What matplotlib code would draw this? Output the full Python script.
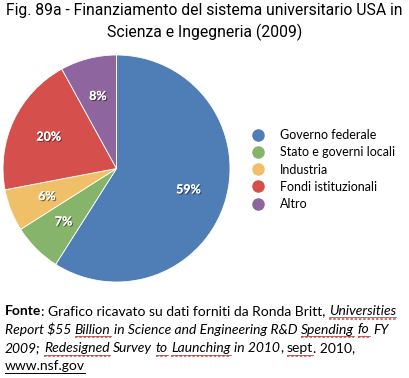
import matplotlib
matplotlib.use("Agg")
import matplotlib.pyplot as plt
import matplotlib.patheffects as pe
from matplotlib.lines import Line2D

# Dati del grafico
categorie = ["Governo federale", "Stato e governi locali", "Industria",
             "Fondi istituzionali", "Altro"]
quote = [59, 7, 6, 20, 8]
colori = ["#4f7db5", "#86b46a", "#f0c068", "#d5504c", "#8f65a0"]

titolo = "Fig. 89a - Finanziamento del sistema universitario USA in\nScienza e Ingegneria (2009)"

# righe della fonte: (testo, stile, sottolineatura)
fonte = [
    [("Fonte", "bold", ""), (": Grafico ricavato su dati forniti da Ronda Britt, ", "normal", ""),
     ("Universities", "italic", "sq")],
    [("Report $55 ", "italic", ""), ("Billion", "italic", "sq"),
     (" in Science and Engineering R&D ", "italic", ""), ("Spending", "italic", "sq"),
     (" ", "italic", ""), ("fo", "italic", "sq"), (" FY", "italic", "")],
    [("2009; ", "italic", ""), ("Redesigned", "italic", "sq"), (" Survey ", "italic", ""),
     ("to", "italic", "sq"), (" ", "italic", ""), ("Launching", "italic", "sq"),
     (" in 2010", "italic", ""), (", ", "normal", ""), ("sept", "normal", "sq"),
     (". 2010,", "normal", "")],
    [("www.nsf.gov", "normal", "ul")],
]

W, H = 409, 378
fig = plt.figure(figsize=(W / 100, H / 100), dpi=100)
fig.patch.set_facecolor("white")

# Torta
cx, cy, r = 116.5, 168.5, 113.5
ax = fig.add_axes([(cx - r) / W, (H - cy - r) / H, 2 * r / W, 2 * r / H])
wedges, texts, autotexts = ax.pie(
    quote, colors=colori, startangle=90, counterclock=False,
    autopct=lambda p: "%d%%" % round(p), pctdistance=0.66,
    wedgeprops=dict(edgecolor="white", linewidth=0.6),
    textprops=dict(color="white", fontsize=9, fontweight="bold", family=["Lato", "DejaVu Sans"]))
for t in autotexts:
    t.set_path_effects([pe.withSimplePatchShadow(offset=(0.8, -0.8), shadow_rgbFace="black", alpha=0.5),
                        pe.Normal()])
ax.set_xlim(-1, 1)
ax.set_ylim(-1, 1)
ax.axis("off")

# Titolo
fig.text(0.5, 1 - 3 / H, titolo, ha="center", va="top", fontsize=11.3,
         family=["Roboto", "DejaVu Sans"], linespacing=1.45)

# Legenda
handles = [Line2D([], [], marker="o", linestyle="", markersize=8,
                  markerfacecolor=c, markeredgecolor=c) for c in colori]
fig.legend(handles, categorie, loc="upper left", bbox_to_anchor=(252 / W, 1 - 129 / H),
           frameon=False, handlelength=1.0, handletextpad=1.2, labelspacing=0.42,
           borderaxespad=0, borderpad=0,
           prop=dict(family=["Lato", "DejaVu Sans"], size=9))

# Fonte, disegnata a pezzi
renderer = fig.canvas.get_renderer()
fam = ["Lato", "DejaVu Sans"]
fs = 10


def larghezza(s, **kw):
    t = fig.text(0, 0, s, fontsize=fs, family=fam, **kw)
    w = t.get_window_extent(renderer).width
    t.remove()
    return w


sp = larghezza("x x") - larghezza("xx")
righe_y = [315, 333.5, 352.5, 370.5]
for riga, y in zip(fonte, righe_y):
    x = 5
    for testo, stile, linea in riga:
        kw = {}
        if stile == "bold":
            kw["fontweight"] = "bold"
        if stile == "italic":
            kw["fontstyle"] = "italic"
        core = testo.strip(" ")
        if not core:
            x += len(testo) * sp
            continue
        lead = len(testo) - len(testo.lstrip(" "))
        trail = len(testo) - len(testo.rstrip(" "))
        x += lead * sp
        t = fig.text(x / W, 1 - y / H, core, fontsize=fs, family=fam, va="baseline",
                     parse_math=False, **kw)
        w = t.get_window_extent(renderer).width
        if linea == "ul":
            fig.add_artist(Line2D([x / W, (x + w) / W], [1 - (y + 2.5) / H] * 2,
                                  color="black", linewidth=0.7))
        if linea == "sq":
            fig.add_artist(Line2D([x / W, (x + w) / W], [1 - (y + 2) / H] * 2,
                                  color="#555555", linewidth=0.5))
            fig.add_artist(Line2D([x / W, (x + w) / W], [1 - (y + 3.5) / H] * 2,
                                  color="#e03c3c", linewidth=1.1, linestyle=(0, (1.6, 1.2))))
        x += w + trail * sp

fig.savefig("out.png", dpi=100, facecolor="white")
